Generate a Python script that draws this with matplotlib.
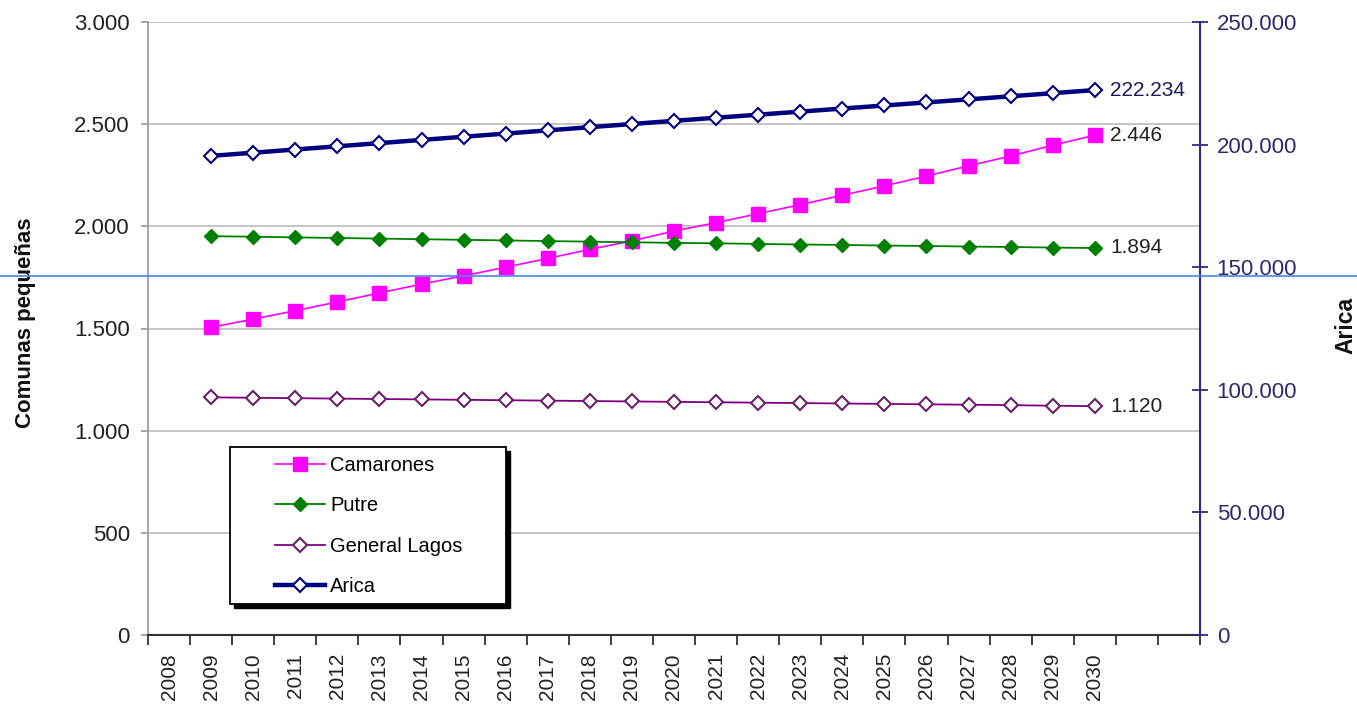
import matplotlib.pyplot as plt
from matplotlib.lines import Line2D
from matplotlib.patches import Rectangle
from matplotlib.ticker import FuncFormatter

plt.rcParams['font.family'] = ['Liberation Sans', 'DejaVu Sans']

# category axis (two empty slots at the end, as in the original sheet)
categories = [str(y) for y in range(2008, 2031)] + ['', '']
years = list(range(2009, 2031))

camarones = [1505, 1546, 1587, 1630, 1674, 1717, 1758, 1800, 1843, 1887, 1929,
             1977, 2018, 2062, 2106, 2152, 2198, 2246, 2296, 2344, 2397, 2446]
putre = [1952, 1949, 1946, 1943, 1940, 1937, 1934, 1931, 1928, 1925, 1922,
         1919, 1917, 1914, 1911, 1909, 1906, 1904, 1901, 1899, 1896, 1894]
general_lagos = [1163, 1161, 1159, 1157, 1155, 1153, 1151, 1149, 1147, 1145, 1143,
                 1141, 1139, 1137, 1135, 1133, 1131, 1129, 1127, 1125, 1122, 1120]
arica = [195400, 196700, 198000, 199300, 200600, 201900, 203200, 204500, 205800,
         207100, 208400, 209700, 210950, 212200, 213450, 214700, 215950, 217200,
         218450, 219700, 220970, 222234]

W, H = 1357, 705
fig = plt.figure(figsize=(W / 100, H / 100), dpi=100)
ax = fig.add_axes([148 / W, 1 - 635 / H, (1200 - 148) / W, (635 - 22) / H])
ax2 = ax.twinx()

x = [categories.index(str(y)) for y in years]


def miles(v, pos):
    return f"{int(v):,}".replace(",", ".")


# left axis series
l1, = ax.plot(x, camarones, color='#ff00ff', lw=1.2, marker='s', ms=9.5,
              mfc='#ff00ff', mec='#ff00ff', zorder=3)
l2, = ax.plot(x, putre, color='#008000', lw=1.3, marker='D', ms=6.8,
              mfc='#008000', mec='#008000', zorder=3)
l3, = ax.plot(x, general_lagos, color='#800080', lw=1.3, marker='D', ms=6.8,
              mfc='white', mec='#6a1f6a', mew=1.5, zorder=3)
# right axis series
l4, = ax2.plot(x, arica, color='#000080', lw=3.2, marker='D', ms=6.8,
               mfc='white', mec='#000080', mew=1.5, zorder=3)

ax.set_xlim(-0.5, len(categories) - 0.5)
ax.set_ylim(0, 3000)
ax2.set_ylim(0, 250000)
ax.set_yticks(range(0, 3001, 500))
ax2.set_yticks(range(0, 250001, 50000))
ax.yaxis.set_major_formatter(FuncFormatter(miles))
ax2.yaxis.set_major_formatter(FuncFormatter(miles))

# ticks at category borders, labels at category centres
ax.set_xticks([i - 0.5 for i in range(len(categories) + 1)])
ax.set_xticklabels([])
ax.set_xticks(range(len(categories)), minor=True)
ax.set_xticklabels(categories, minor=True, rotation=90, fontsize=15, color='#222222')
ax.tick_params(axis='x', which='major', direction='out', length=7, width=1.3, color='#333333')
ax.tick_params(axis='x', which='minor', length=0, pad=13)

ax.grid(axis='y', color='#c0c0c0', lw=1.3)
ax.set_axisbelow(True)
ax.tick_params(axis='y', direction='out', length=5, width=1.3, color='#a0a0a0',
               labelsize=16, labelcolor='#222222', pad=8)
ax2.tick_params(axis='y', direction='inout', length=12, width=1.3, color='#2e2e80',
                labelsize=16, labelcolor='#2b2b6e', pad=6)

for a in (ax, ax2):
    a.spines['top'].set_visible(False)
ax.spines['left'].set_color('#a0a0a0')
ax.spines['left'].set_linewidth(1.3)
ax.spines['bottom'].set_color('#333333')
ax.spines['bottom'].set_linewidth(1.5)
ax2.spines['left'].set_visible(False)
ax2.spines['bottom'].set_visible(False)
ax2.spines['right'].set_color('#2e2e80')
ax2.spines['right'].set_linewidth(1.5)

# end-of-series value labels
ax2.annotate(miles(arica[-1], 0), (x[-1], arica[-1]), xytext=(11, 0),
             textcoords='offset points', va='center', fontsize=15, color='#1a1a5e')
for series in (camarones, putre, general_lagos):
    ax.annotate(miles(series[-1], 0), (x[-1], series[-1]), xytext=(11, 0),
                textcoords='offset points', va='center', fontsize=15, color='#222222')

fig.text(26 / W, 1 - 323 / H, 'Comunas pequeñas', rotation=90, ha='center', va='center',
         fontsize=16, fontweight='bold', color='#111111')
fig.text(1346 / W, 1 - 325 / H, 'Arica', rotation=90, ha='center', va='center',
         fontsize=16.5, fontweight='bold', color='#111111')

# legend box with hard shadow
fig.patches.append(Rectangle((234 / W, 1 - 608 / H), 276 / W, 157 / H,
                             transform=fig.transFigure, facecolor='black',
                             edgecolor='black', zorder=2))
fig.patches.append(Rectangle((230 / W, 1 - 604 / H), 276 / W, 157 / H,
                             transform=fig.transFigure, facecolor='white',
                             edgecolor='black', lw=1.3, zorder=3))
fig.legend([l1, l2, l3, l4], ['Camarones', 'Putre', 'General Lagos', 'Arica'],
           loc='upper left', bbox_to_anchor=(275 / W, 1 - 456 / H), frameon=False,
           fontsize=14.5, numpoints=1, handlelength=2.5, handletextpad=0.25,
           labelspacing=1.06, borderpad=0, borderaxespad=0)

# stray blue rule that runs across the whole screenshot
fig.add_artist(Line2D([0, 1], [1 - 276 / H, 1 - 276 / H], transform=fig.transFigure,
                      color='#4a86e8', lw=1.2, zorder=10))

plt.savefig('out.png', dpi=100)
